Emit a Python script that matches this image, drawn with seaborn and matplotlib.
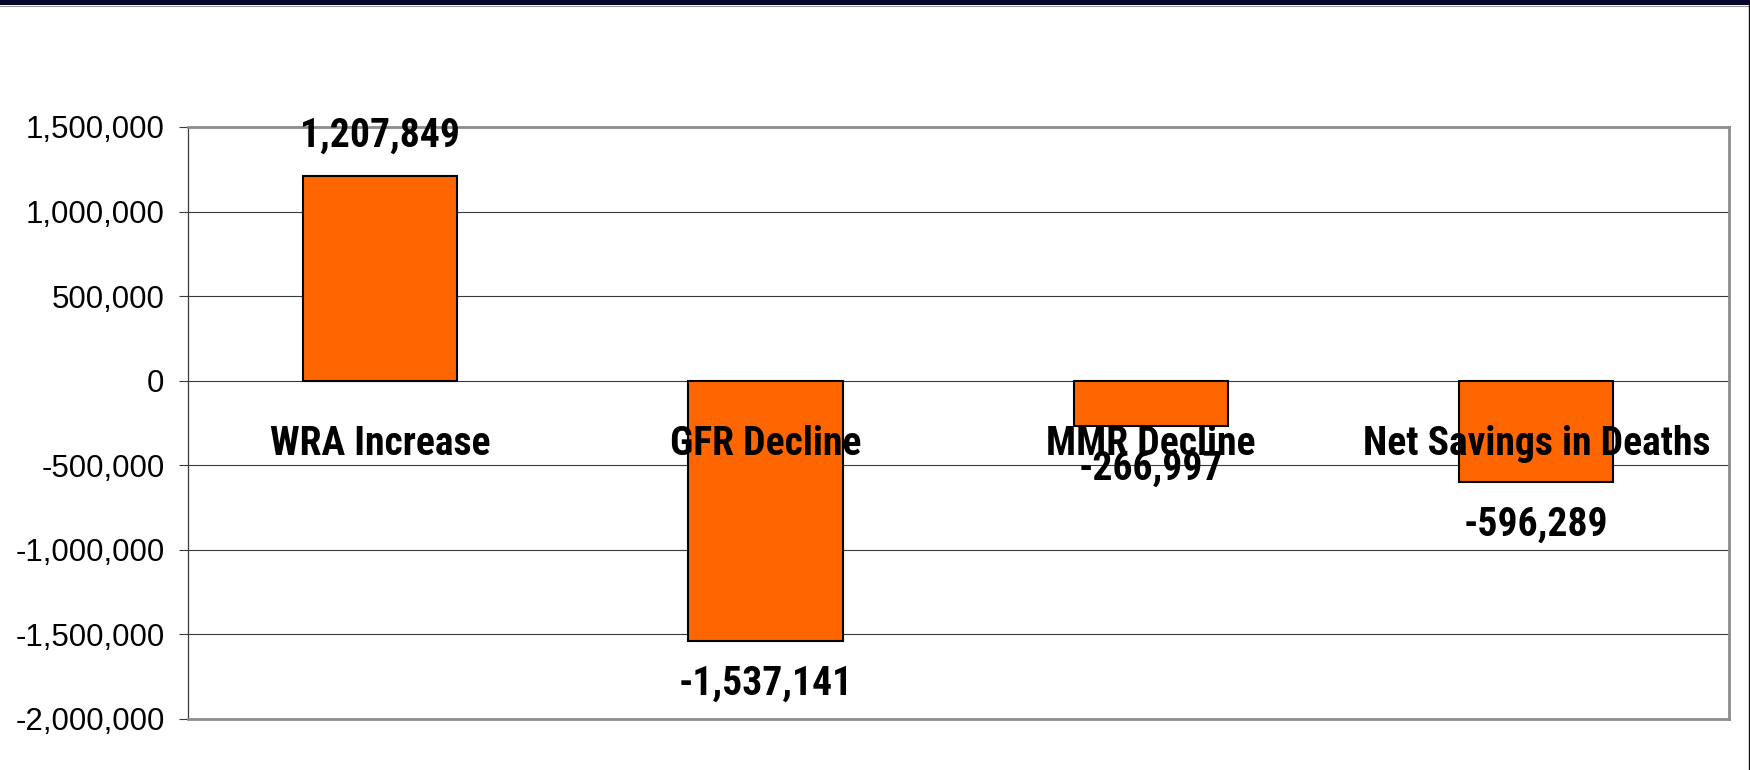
import matplotlib
matplotlib.use("Agg")
import matplotlib.pyplot as plt
import matplotlib.ticker as mticker
from matplotlib import font_manager
from matplotlib.patches import Rectangle
from matplotlib.lines import Line2D
import seaborn as sns

# -------------------------------
# DATA
# -------------------------------
categories = ["WRA Increase", "GFR Decline", "MMR Decline", "Net Savings in Deaths"]
values = [1207849, -1537141, -266997, -596289]
y_ticks = [-2000000, -1500000, -1000000, -500000, 0, 500000, 1000000, 1500000]

# -------------------------------
# THEME / FONTS
# -------------------------------
sns.set_theme(style="white", rc={"text.color": "black", "ytick.color": "black",
                                 "axes.labelcolor": "black"})
plt.rcParams["font.family"] = ["Liberation Sans", "DejaVu Sans"]

# narrow bold face for the labels (Arial Narrow look-alike)
names = {f.name for f in font_manager.fontManager.ttflist}
narrow = next((n for n in ["Liberation Sans Narrow", "Roboto Condensed", "PT Sans Narrow"]
               if n in names), "Liberation Sans")
LABEL_FONT = [narrow, "DejaVu Sans"]

BAR_COLOR = "#FF6600"
GRID = "#3a3a3a"
BORDER = "#8c8c8c"

# -------------------------------
# FIGURE
# -------------------------------
fig = plt.figure(figsize=(17.5, 7.7), dpi=100)
fig.patch.set_facecolor("white")
ax = fig.add_axes([187.5 / 1750, 51 / 770, (1729 - 187.5) / 1750, (719 - 127) / 770])

sns.barplot(x=categories, y=values, color=BAR_COLOR, saturation=1, width=0.4,
            edgecolor="black", linewidth=1.5, ax=ax, zorder=3)

ax.set_xlim(-0.5, len(categories) - 0.5)
ax.set_ylim(-2000000, 1500000)
ax.set_yticks(y_ticks)
ax.yaxis.set_major_formatter(mticker.FuncFormatter(lambda v, p: f"{int(v):,}"))
ax.tick_params(axis="y", direction="out", length=6.5, width=0.8, color=GRID,
               labelsize=22.5, labelcolor="black", pad=10, left=True)
ax.set_xticks([])
ax.set_xlabel("")
ax.set_ylabel("")

# gridlines
ax.yaxis.grid(True, color=GRID, linewidth=0.8, zorder=0)
ax.set_axisbelow(True)

# plot area border
for side in ["top", "right", "bottom"]:
    ax.spines[side].set_color(BORDER)
    ax.spines[side].set_linewidth(2)
ax.spines["left"].set_color(GRID)
ax.spines["left"].set_linewidth(0.9)

# value labels
for i, v in enumerate(values):
    off = 21.6 if v > 0 else -38.9
    ax.annotate(f"{v:,}", xy=(i, v), xytext=(0, off), textcoords="offset points",
                ha="center", va="baseline", fontsize=28.5, fontweight="bold",
                color="black", family=LABEL_FONT, zorder=5)

# category labels under the zero line
for i, c in enumerate(categories):
    ax.annotate(c, xy=(i, 0), xytext=(0, -53.3), textcoords="offset points",
                ha="center", va="baseline", fontsize=28.5, fontweight="bold",
                color="black", family=LABEL_FONT, zorder=5)

# slide frame: navy band on top, thin dark line on the right
fig.patches.append(Rectangle((0, 1 - 5 / 770), 1, 5 / 770, transform=fig.transFigure,
                             facecolor="#06052a", edgecolor="none"))
fig.lines.append(Line2D([0, 1], [1 - 5.5 / 770] * 2, transform=fig.transFigure,
                        color="#9a9a9a", linewidth=0.8))
fig.lines.append(Line2D([1748.5 / 1750] * 2, [0, 1], transform=fig.transFigure,
                        color="#111111", linewidth=1.0))

plt.savefig("out.png", dpi=100)
